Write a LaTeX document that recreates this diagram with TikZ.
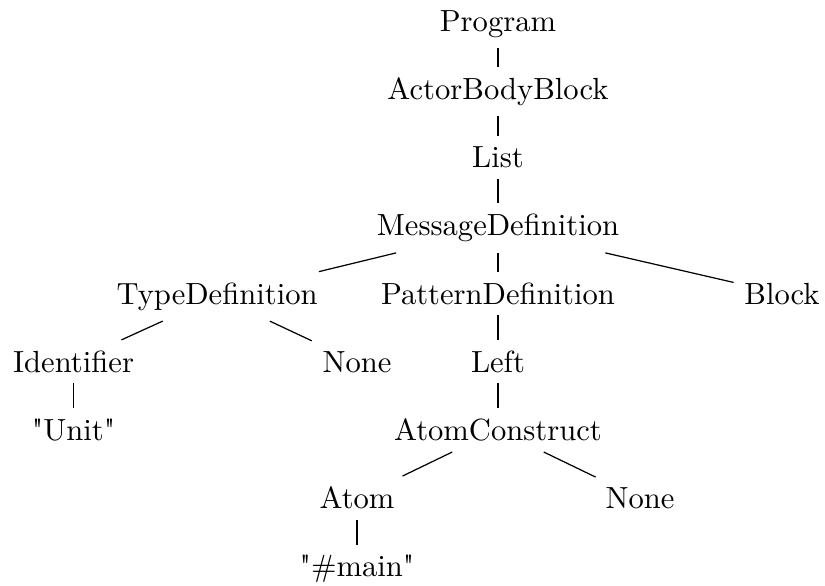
\documentclass[tikz,border=0pt]{standalone}
\usepackage{tikz}

\begin{document}
\begin{tikzpicture}[every node/.style={anchor=base}]
  \useasboundingbox (0,0) rectangle (9.476,-6.72);
  \node (Prog) at (5.72,-0.356) {Program};
  \node (ABB) at (5.72,-1.140) {ActorBodyBlock};
  \node (List) at (5.72,-1.924) {List};
  \node (MsgDef) at (5.72,-2.708) {MessageDefinition};
  \node (TypeDef) at (2.493,-3.492) {TypeDefinition};
  \node (PatDef) at (5.72,-3.492) {PatternDefinition};
  \node (Block) at (8.982,-3.492) {Block};
  \node (Ident) at (0.845,-4.276) {Identifier};
  \node (NoneA) at (4.101,-4.276) {None};
  \node (Left) at (5.72,-4.276) {Left};
  \node (Unit) at (0.845,-5.060) {\textquotedbl Unit\textquotedbl};
  \node (AtomC) at (5.72,-5.060) {AtomConstruct};
  \node (Atom) at (4.101,-5.844) {Atom};
  \node (NoneB) at (7.351,-5.844) {None};
  \node (Main) at (4.101,-6.627) {\textquotedbl\#main\textquotedbl};
  \draw (Prog) -- (ABB);
  \draw (ABB) -- (List);
  \draw (List) -- (MsgDef);
  \draw (MsgDef) -- (TypeDef);
  \draw (MsgDef) -- (PatDef);
  \draw (MsgDef) -- (Block);
  \draw (TypeDef) -- (Ident);
  \draw (TypeDef) -- (NoneA);
  \draw (Ident) -- (Unit);
  \draw (PatDef) -- (Left);
  \draw (Left) -- (AtomC);
  \draw (AtomC) -- (Atom);
  \draw (AtomC) -- (NoneB);
  \draw (Atom) -- (Main);
\end{tikzpicture}
\end{document}
